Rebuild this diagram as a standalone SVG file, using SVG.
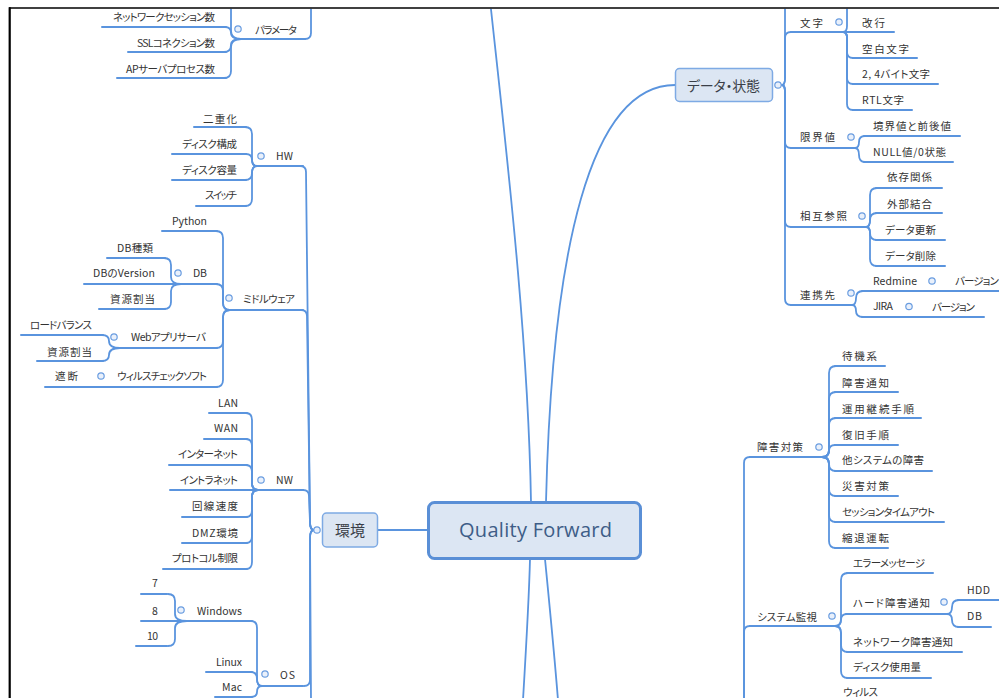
<svg xmlns="http://www.w3.org/2000/svg" width="999" height="698" viewBox="0 0 999 698">
<style>
  .ln{fill:none;stroke:#5a94de;stroke-width:1.8;stroke-linecap:round;stroke-linejoin:round}
  .ul{fill:none;stroke:#5a94de;stroke-width:2;stroke-linecap:round}
  .t{font-family:"Noto Sans CJK JP","Noto Sans",sans-serif;font-size:10.5px;fill:#333;font-feature-settings:"palt" 1}
  .k{fill:#e9f0fb;stroke:#6a9de0;stroke-width:1.2}
  .box{fill:#dce6f3;stroke:#7eaae4;stroke-width:1.5}
  .root{fill:#dce6f3;stroke:#5a8fd6;stroke-width:3}
  .mid{font-family:"Noto Sans CJK JP","Noto Sans",sans-serif;fill:#3a3f48;font-feature-settings:"palt" 1}
</style>
<defs>
  <clipPath id="frame"><rect x="10.7" y="8.8" width="990" height="690"/></clipPath>
</defs>
<rect x="0" y="0" width="999" height="698" fill="#fff"/>
<g clip-path="url(#frame)">
<g id="connectors">
  <!-- root branches -->
  <path class="ln" d="M531,502 C528,330 505,140 490,0"/>
  <path class="ln" d="M546,502 C552,250 590,85 675,85"/>
  <path class="ln" d="M428,530 H378"/>
  <path class="ln" d="M530,559 C529,600 526,650 523,700"/>
  <path class="ln" d="M545,559 C549,600 554,650 558,700"/>
  <!-- 環境 -->
  <path class="ln" d="M314,530 Q310,530 310,522 L306,172 Q306,166 300,166"/>
  <path class="ln" d="M314,530 Q310,530 310,522 L307,316 Q307,310 301,310"/>
  <path class="ln" d="M314,530 Q310,530 310,522 L309,496 Q309,490 303,490"/>
  <path class="ln" d="M314,530 Q310,530 310,538 L310,680 Q310,686 304,686"/>
  <path class="ln" d="M314,530 Q310,530 310,538 L311,700"/>
  <!-- パラメータ -->
  <path class="ln" d="M305,39 Q311,39 311,33 L311,0"/>
  <path class="ln" d="M241,39 Q231,39 231,31 L231,0"/>
  <path class="ln" d="M241,39 Q231,39 231,33 Q231,27 225,27"/>
  <path class="ln" d="M241,39 Q231,39 231,45 Q231,52 224,52"/>
  <path class="ln" d="M241,39 Q231,39 231,47 L231,71 Q231,78 224,78"/>
  <!-- HW -->
  <path class="ln" d="M257,166 Q252,166 252,159 L252,134 Q252,127 245,127"/>
  <path class="ln" d="M257,166 Q252,166 252,160 Q252,154 246,154"/>
  <path class="ln" d="M257,166 Q252,166 252,173 Q252,180 245,180"/>
  <path class="ln" d="M257,166 Q252,166 252,173 L252,199 Q252,206 245,206"/>
  <!-- ミドルウェア -->
  <path class="ln" d="M230,310 Q223,310 223,303 L223,238 Q223,231 216,231"/>
  <path class="ln" d="M230,310 Q223,310 223,303 L223,291 Q223,284 216,284"/>
  <path class="ln" d="M230,310 Q223,310 223,317 L223,341 Q223,348 216,348"/>
  <path class="ln" d="M230,310 Q223,310 223,317 L223,380 Q223,387 216,387"/>
  <!-- DB -->
  <path class="ln" d="M181,284 Q171,284 171,277 L171,265 Q171,258 164,258"/>
  <path class="ln" d="M181,284 H168"/>
  <path class="ln" d="M181,284 Q171,284 171,291 L171,302 Q171,309 164,309"/>
  <!-- Webアプリサーバ -->
  <path class="ln" d="M120,348 Q109,348 109,341 Q109,335 102,335"/>
  <path class="ln" d="M120,348 Q109,348 109,355 Q109,361 102,361"/>
  <!-- ウィルスチェックソフト -->
  <path class="ln" d="M104,387 H96"/>
  <!-- NW -->
  <path class="ln" d="M258,490 Q252,490 252,483 L252,420 Q252,413 246,413"/>
  <path class="ln" d="M258,490 Q252,490 252,483 L252,446 Q252,439 246,439"/>
  <path class="ln" d="M258,490 Q252,490 252,483 L252,472 Q252,465 246,465"/>
  <path class="ln" d="M258,490 H246"/>
  <path class="ln" d="M258,490 Q252,490 252,497 L252,510 Q252,517 246,517"/>
  <path class="ln" d="M258,490 Q252,490 252,497 L252,536 Q252,543 246,543"/>
  <path class="ln" d="M258,490 Q252,490 252,497 L252,562 Q252,569 246,569"/>
  <!-- OS -->
  <path class="ln" d="M262,686 Q257,686 257,679 L257,628 Q257,621 251,621"/>
  <path class="ln" d="M262,686 Q257,686 257,679 Q257,672 251,672"/>
  <path class="ln" d="M262,686 Q257,686 257,692 Q257,697 251,697"/>
  <!-- Windows -->
  <path class="ln" d="M187,621 Q175,621 175,614 L175,601 Q175,594 168,594"/>
  <path class="ln" d="M187,621 H170"/>
  <path class="ln" d="M187,621 Q175,621 175,628 L175,639 Q175,646 168,646"/>
  <!-- データ・状態 -->
  <path class="ln" d="M782,85 Q785,85 785,78 L785,0"/>
  <path class="ln" d="M782,85 Q785,85 785,78 L785,38 Q785,32 791,32"/>
  <path class="ln" d="M782,85 Q785,85 785,92 L785,142 Q785,148 791,148"/>
  <path class="ln" d="M782,85 Q785,85 785,92 L785,221 Q785,227 791,227"/>
  <path class="ln" d="M782,85 Q785,85 785,92 L785,299 Q785,305 791,305"/>
  <!-- 文字 -->
  <path class="ln" d="M843,32 Q847,32 847,26 L847,0"/>
  <path class="ln" d="M843,32 H854"/>
  <path class="ln" d="M843,32 Q847,32 847,38 L847,52 Q847,58 853,58"/>
  <path class="ln" d="M843,32 Q847,32 847,38 L847,78 Q847,84 853,84"/>
  <path class="ln" d="M843,32 Q847,32 847,38 L847,104 Q847,110 853,110"/>
  <!-- 限界値 -->
  <path class="ln" d="M855,148 Q859,148 859,142 Q859,136 865,136"/>
  <path class="ln" d="M855,148 Q859,148 859,155 Q859,162 865,162"/>
  <!-- 相互参照 -->
  <path class="ln" d="M866,227 Q870,227 870,220 L870,195 Q870,188 877,188"/>
  <path class="ln" d="M866,227 Q870,227 870,220 Q870,213 877,213"/>
  <path class="ln" d="M866,227 Q870,227 870,233 Q870,240 877,240"/>
  <path class="ln" d="M866,227 Q870,227 870,233 L870,259 Q870,266 877,266"/>
  <!-- 連携先 -->
  <path class="ln" d="M852,305 Q856,305 856,298 Q856,291 863,291"/>
  <path class="ln" d="M852,305 Q856,305 856,311 Q856,317 863,317"/>
  <path class="ln" d="M940,291 H946"/>
  <path class="ln" d="M918,317 H923"/>
  <!-- 障害対策 / システム監視 trunk -->
  <path class="ln" d="M744,700 L744,463 Q744,457 750,457"/>
  <path class="ln" d="M744,700 L744,632 Q744,626 750,626"/>
  <!-- 障害対策 -->
  <path class="ln" d="M822,457 Q829,457 829,450 L829,373 Q829,366 836,366"/>
  <path class="ln" d="M822,457 Q829,457 829,450 L829,399 Q829,392 836,392"/>
  <path class="ln" d="M822,457 Q829,457 829,450 L829,425 Q829,418 836,418"/>
  <path class="ln" d="M822,457 Q829,457 829,451 Q829,445 835,445"/>
  <path class="ln" d="M822,457 Q829,457 829,464 Q829,471 836,471"/>
  <path class="ln" d="M822,457 Q829,457 829,464 L829,489 Q829,496 836,496"/>
  <path class="ln" d="M822,457 Q829,457 829,464 L829,515 Q829,522 836,522"/>
  <path class="ln" d="M822,457 Q829,457 829,464 L829,541 Q829,548 836,548"/>
  <!-- システム監視 -->
  <path class="ln" d="M835,626 Q841,626 841,619 L841,580 Q841,573 848,573"/>
  <path class="ln" d="M835,626 Q841,626 841,620 Q841,614 847,614"/>
  <path class="ln" d="M835,626 Q841,626 841,633 L841,645 Q841,652 848,652"/>
  <path class="ln" d="M835,626 Q841,626 841,633 L841,671 Q841,678 848,678"/>
  <!-- ハード障害通知 -->
  <path class="ln" d="M947,614 Q952,614 952,607 Q952,600 959,600"/>
  <path class="ln" d="M947,614 Q952,614 952,620 Q952,627 959,627"/>
</g>

<!-- central topic -->
<g id="n-root">
  <rect class="root" x="428.5" y="502.5" width="212" height="56" rx="6"/>
  <text x="459" y="537" textLength="153" font-family="'Open Sans','Noto Sans',sans-serif" font-size="20" fill="#3e5d87">Quality Forward</text>
</g>
<g id="n-env">
  <rect class="box" x="322.5" y="513" width="55" height="34" rx="4"/>
  <text class="mid" x="350" y="536" font-size="15" text-anchor="middle">環境</text>
  <circle class="k" cx="317" cy="530" r="3.2"/>
</g>
<g id="n-data">
  <rect class="box" x="675.5" y="68.5" width="97" height="33" rx="4"/>
  <text class="mid" x="687" y="91" font-size="14" textLength="73">データ・状態</text>
  <circle class="k" cx="778" cy="85" r="3.2"/>
</g>

<!-- パラメータ -->
<g id="n-param">
  <path class="ul" d="M241,39 H305"/>
  <text class="t" x="255" y="34" textLength="42">パラメータ</text>
  <circle class="k" cx="238" cy="29" r="3.2"/>
</g>
<g id="n-param-sess"><path class="ul" d="M102,27 H226"/><text class="t" x="113" y="20.5" textLength="102">ネットワークセッション数</text></g>
<g id="n-param-ssl"><path class="ul" d="M128,52 H226"/><text class="t" x="137" y="46.5" textLength="78">SSLコネクション数</text></g>
<g id="n-param-ap"><path class="ul" d="M117,78 H226"/><text class="t" x="126" y="72.5" textLength="89">APサーバプロセス数</text></g>

<!-- HW -->
<g id="n-hw">
  <path class="ul" d="M257,166 H303"/>
  <text class="t" x="276" y="160" textLength="17">HW</text>
  <circle class="k" cx="261" cy="156" r="3.2"/>
</g>
<g id="n-hw-dup"><path class="ul" d="M194,127 H246"/><text class="t" x="203" y="122.5" textLength="34">二重化</text></g>
<g id="n-hw-conf"><path class="ul" d="M172,154 H246"/><text class="t" x="182" y="148" textLength="55">ディスク構成</text></g>
<g id="n-hw-cap"><path class="ul" d="M172,180 H246"/><text class="t" x="182" y="174" textLength="55">ディスク容量</text></g>
<g id="n-hw-sw"><path class="ul" d="M196,206 H246"/><text class="t" x="205" y="199" textLength="32">スイッチ</text></g>

<!-- ミドルウェア -->
<g id="n-mw">
  <path class="ul" d="M230,310 H303"/>
  <text class="t" x="243" y="303" textLength="52">ミドルウェア</text>
  <circle class="k" cx="229" cy="298" r="3.2"/>
</g>
<g id="n-mw-python"><path class="ul" d="M162,231 H217"/><text class="t" x="172" y="224.5" textLength="35">Python</text></g>
<g id="n-db">
  <path class="ul" d="M181,284 H217"/>
  <text class="t" x="193" y="276.5" textLength="14">DB</text>
  <circle class="k" cx="178" cy="273" r="3.2"/>
</g>
<g id="n-db-kind"><path class="ul" d="M107,258 H165"/><text class="t" x="117" y="251.5" textLength="36">DB種類</text></g>
<g id="n-db-ver"><path class="ul" d="M84,284 H170"/><text class="t" x="93" y="276.5" textLength="62">DBのVersion</text></g>
<g id="n-db-res"><path class="ul" d="M99,309 H165"/><text class="t" x="110" y="303" textLength="45">資源割当</text></g>
<g id="n-web">
  <path class="ul" d="M120,348 H217"/>
  <text class="t" x="131" y="341" textLength="75">Webアプリサーバ</text>
  <circle class="k" cx="114" cy="337" r="3.2"/>
</g>
<g id="n-web-lb"><path class="ul" d="M21,335 H103"/><text class="t" x="30" y="329" textLength="62">ロードバランス</text></g>
<g id="n-web-res"><path class="ul" d="M37,361 H103"/><text class="t" x="47" y="355.5" textLength="45">資源割当</text></g>
<g id="n-av">
  <path class="ul" d="M104,387 H217"/>
  <text class="t" x="117" y="380" textLength="90">ウィルスチェックソフト</text>
  <circle class="k" cx="101" cy="376" r="3.2"/>
</g>
<g id="n-av-block"><path class="ul" d="M45,387 H96"/><text class="t" x="55" y="380" textLength="23">遮断</text></g>

<!-- NW -->
<g id="n-nw">
  <path class="ul" d="M258,490 H303"/>
  <text class="t" x="276" y="484" textLength="17">NW</text>
  <circle class="k" cx="261" cy="480" r="3.2"/>
</g>
<g id="n-nw-lan"><path class="ul" d="M209,413 H247"/><text class="t" x="218" y="406.5" textLength="20">LAN</text></g>
<g id="n-nw-wan"><path class="ul" d="M204,439 H247"/><text class="t" x="214" y="432" textLength="24">WAN</text></g>
<g id="n-nw-inet"><path class="ul" d="M169,465 H247"/><text class="t" x="178" y="458" textLength="60">インターネット</text></g>
<g id="n-nw-intra"><path class="ul" d="M170,490 H247"/><text class="t" x="180" y="484" textLength="58">イントラネット</text></g>
<g id="n-nw-speed"><path class="ul" d="M182,517 H247"/><text class="t" x="192" y="510" textLength="46">回線速度</text></g>
<g id="n-nw-dmz"><path class="ul" d="M182,543 H247"/><text class="t" x="192" y="536.5" textLength="46">DMZ環境</text></g>
<g id="n-nw-proto"><path class="ul" d="M163,569 H247"/><text class="t" x="172" y="562" textLength="66">プロトコル制限</text></g>

<!-- OS -->
<g id="n-os">
  <path class="ul" d="M262,686 H303"/>
  <text class="t" x="280" y="679" textLength="15">OS</text>
  <circle class="k" cx="265" cy="674" r="3.2"/>
</g>
<g id="n-win">
  <path class="ul" d="M187,621 H252"/>
  <text class="t" x="197" y="614.5" textLength="45">Windows</text>
  <circle class="k" cx="181" cy="610" r="3.2"/>
</g>
<g id="n-win-7"><path class="ul" d="M141,594 H167"/><text class="t" x="152" y="587">7</text></g>
<g id="n-win-8"><path class="ul" d="M141,621 H170"/><text class="t" x="152" y="614.5">8</text></g>
<g id="n-win-10"><path class="ul" d="M136,646 H167"/><text class="t" x="147" y="640" textLength="11">10</text></g>
<g id="n-os-linux"><path class="ul" d="M206,672 H252"/><text class="t" x="216" y="665.5" textLength="26">Linux</text></g>
<g id="n-os-mac"><path class="ul" d="M215,697 H252"/><text class="t" x="222" y="690.5" textLength="20">Mac</text></g>

<!-- 文字 -->
<g id="n-char">
  <path class="ul" d="M791,32 H843"/>
  <text class="t" x="800" y="26.5" textLength="23">文字</text>
  <circle class="k" cx="839" cy="22" r="3.2"/>
</g>
<g id="n-char-br"><path class="ul" d="M853,32 H894"/><text class="t" x="862" y="26.5" textLength="23">改行</text></g>
<g id="n-char-sp"><path class="ul" d="M853,58 H917"/><text class="t" x="862" y="52.5" textLength="47">空白文字</text></g>
<g id="n-char-mb"><path class="ul" d="M853,84 H938"/><text class="t" x="862" y="77.5" textLength="68">2, 4バイト文字</text></g>
<g id="n-char-rtl"><path class="ul" d="M853,110 H912"/><text class="t" x="862" y="103.5" textLength="42">RTL文字</text></g>

<!-- 限界値 -->
<g id="n-limit">
  <path class="ul" d="M791,148 H855"/>
  <text class="t" x="800" y="141" textLength="35">限界値</text>
  <circle class="k" cx="851" cy="137" r="3.2"/>
</g>
<g id="n-limit-edge"><path class="ul" d="M864,136 H960"/><text class="t" x="873" y="130" textLength="78">境界値と前後値</text></g>
<g id="n-limit-null"><path class="ul" d="M864,162 H953"/><text class="t" x="873" y="155.5" textLength="73">NULL値/0状態</text></g>

<!-- 相互参照 -->
<g id="n-xref">
  <path class="ul" d="M791,227 H866"/>
  <text class="t" x="800" y="220" textLength="47">相互参照</text>
  <circle class="k" cx="862" cy="216" r="3.2"/>
</g>
<g id="n-xref-dep"><path class="ul" d="M876,188 H942"/><text class="t" x="887" y="181" textLength="45">依存関係</text></g>
<g id="n-xref-join"><path class="ul" d="M876,213 H942"/><text class="t" x="887" y="207.5" textLength="45">外部結合</text></g>
<g id="n-xref-upd"><path class="ul" d="M876,240 H945"/><text class="t" x="885" y="233.5" textLength="51">データ更新</text></g>
<g id="n-xref-del"><path class="ul" d="M876,266 H945"/><text class="t" x="885" y="259.5" textLength="51">データ削除</text></g>

<!-- 連携先 -->
<g id="n-link">
  <path class="ul" d="M791,305 H852"/>
  <text class="t" x="800" y="299" textLength="35">連携先</text>
  <circle class="k" cx="851" cy="293" r="3.2"/>
</g>
<g id="n-link-redmine">
  <path class="ul" d="M862,291 H940"/>
  <text class="t" x="873" y="285" textLength="44">Redmine</text>
  <circle class="k" cx="932" cy="281" r="3.2"/>
</g>
<g id="n-link-redmine-ver"><path class="ul" d="M946,291 H1000"/><text class="t" x="955" y="285" textLength="44">バージョン</text></g>
<g id="n-link-jira">
  <path class="ul" d="M862,317 H918"/>
  <text class="t" x="873" y="310" textLength="20">JIRA</text>
  <circle class="k" cx="909" cy="306.5" r="3.2"/>
</g>
<g id="n-link-jira-ver"><path class="ul" d="M923,317 H984"/><text class="t" x="932" y="311" textLength="43">バージョン</text></g>

<!-- 障害対策 -->
<g id="n-fail">
  <path class="ul" d="M750,457 H822"/>
  <text class="t" x="757" y="451" textLength="46">障害対策</text>
  <circle class="k" cx="819" cy="447" r="3.2"/>
</g>
<g id="n-fail-standby"><path class="ul" d="M835,366 H885"/><text class="t" x="842" y="360" textLength="35">待機系</text></g>
<g id="n-fail-notify"><path class="ul" d="M835,392 H898"/><text class="t" x="842" y="386.5" textLength="47">障害通知</text></g>
<g id="n-fail-cont"><path class="ul" d="M835,418 H921"/><text class="t" x="842" y="413" textLength="72">運用継続手順</text></g>
<g id="n-fail-recover"><path class="ul" d="M835,445 H898"/><text class="t" x="842" y="438.5" textLength="47">復旧手順</text></g>
<g id="n-fail-other"><path class="ul" d="M835,471 H932"/><text class="t" x="842" y="464" textLength="82">他システムの障害</text></g>
<g id="n-fail-disaster"><path class="ul" d="M835,496 H898"/><text class="t" x="842" y="490" textLength="47">災害対策</text></g>
<g id="n-fail-timeout"><path class="ul" d="M835,522 H944"/><text class="t" x="842" y="515.5" textLength="93">セッションタイムアウト</text></g>
<g id="n-fail-degrade"><path class="ul" d="M835,548 H888"/><text class="t" x="842" y="542" textLength="47">縮退運転</text></g>

<!-- システム監視 -->
<g id="n-mon">
  <path class="ul" d="M750,626 H835"/>
  <text class="t" x="757" y="620.5" textLength="60">システム監視</text>
  <circle class="k" cx="832" cy="616" r="3.2"/>
</g>
<g id="n-mon-err"><path class="ul" d="M847,573 H933"/><text class="t" x="853" y="567" textLength="72">エラーメッセージ</text></g>
<g id="n-mon-hw">
  <path class="ul" d="M846,614 H947"/>
  <text class="t" x="853" y="606.5" textLength="77">ハード障害通知</text>
  <circle class="k" cx="944" cy="602" r="3.2"/>
</g>
<g id="n-mon-hdd"><path class="ul" d="M958,600 H1000"/><text class="t" x="967" y="594" textLength="23">HDD</text></g>
<g id="n-mon-db"><path class="ul" d="M958,627 H991"/><text class="t" x="967" y="620" textLength="15">DB</text></g>
<g id="n-mon-net"><path class="ul" d="M847,652 H962"/><text class="t" x="853" y="645.5" textLength="100">ネットワーク障害通知</text></g>
<g id="n-mon-disk"><path class="ul" d="M847,678 H931"/><text class="t" x="853" y="670.5" textLength="68">ディスク使用量</text></g>

<!-- ウィルス -->
<g id="n-virus"><path class="ul" d="M835,704 H888"/><text class="t" x="843" y="695.5" textLength="35">ウィルス</text></g>
</g>

<!-- page frame -->
<path d="M9,8 H999" stroke="#000" stroke-width="1.6" fill="none"/>
<path d="M9.7,7.2 V698" stroke="#000" stroke-width="2.2" fill="none"/>
</svg>
